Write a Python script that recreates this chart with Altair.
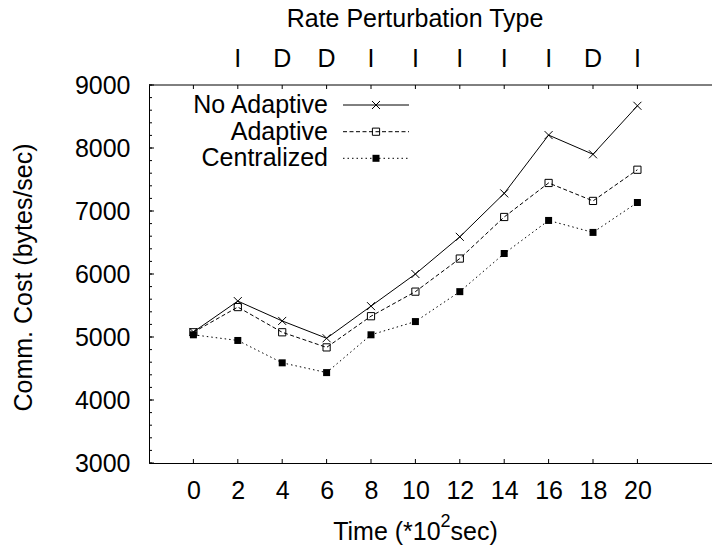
import altair as alt
import pandas as pd

# ---- data ----
times = [0, 2, 4, 6, 8, 10, 12, 14, 16, 18, 20]
no_adaptive = [5080, 5570, 5255, 4980, 5490, 6000, 6590, 7280, 8205, 7900, 8670]
adaptive = [5075, 5475, 5075, 4835, 5330, 5720, 6245, 6905, 7445, 7160, 7655]
centralized = [5035, 4945, 4590, 4435, 5035, 5245, 5720, 6325, 6850, 6660, 7135]
series_names = ["No Adaptive", "Adaptive", "Centralized"]

perturbation_times = [2, 4, 6, 8, 10, 12, 14, 16, 18, 20]
perturbation_types = ["I", "D", "D", "I", "I", "I", "I", "I", "D", "I"]

x_ticks = [0, 2, 4, 6, 8, 10, 12, 14, 16, 18, 20]
y_major = [3000, 4000, 5000, 6000, 7000, 8000, 9000]
y_minor = list(range(3000, 9001, 200))

# x-axis title pieces (with superscript exponent)
x_title_main = "Time (*10"
x_title_exp = "2"
x_title_unit = "sec)"

FONT = "Liberation Sans"
FS = 25
W, H = 563, 378

rows = []
for name, vals in zip(series_names, [no_adaptive, adaptive, centralized]):
    for t, v in zip(times, vals):
        rows.append({"time": t, "value": v, "series": name})
df = pd.DataFrame(rows)

x_scale = alt.Scale(domain=[-2, 23.36], nice=False, zero=False)
y_scale = alt.Scale(domain=[3000, 9000], nice=False, zero=False)

x_axis = alt.Axis(
    values=x_ticks, ticks=False, grid=False, domain=True, domainColor="black",
    domainWidth=1, labelFont=FONT, labelFontSize=FS, labelColor="black",
    labelBaseline="middle", labelPadding=27, labelFlush=False, labelOverlap=False,
    title=None,
)
y_axis = alt.Axis(
    values=y_major, ticks=False, grid=False, domain=True, domainColor="black",
    domainWidth=1, labelFont=FONT, labelFontSize=FS, labelColor="black",
    labelPadding=19, labelFlush=False, labelOverlap=False, format="d",
    title="Comm. Cost (bytes/sec)", titleFont=FONT, titleFontSize=FS,
    titleFontWeight="normal", titleColor="black", titleX=-118, titleY=192,
    titleBaseline="alphabetic", titleAlign="center", titleAngle=270,
)

X = alt.X("time:Q", scale=x_scale, axis=x_axis)
Y = alt.Y("value:Q", scale=y_scale, axis=y_axis)

CROSS = "M-1,-1L1,1M-1,1L1,-1"
styles = {
    "No Adaptive": dict(dash=None, shape=CROSS, filled=False, size=64),
    "Adaptive": dict(dash=[4, 2.5], shape="square", filled=False, size=52),
    "Centralized": dict(dash=[1.5, 3], shape="square", filled=True, size=49),
}


def line_mark(st):
    kw = dict(color="black", strokeWidth=1)
    if st["dash"]:
        kw["strokeDash"] = st["dash"]
    return kw


def point_mark(st):
    return dict(shape=st["shape"], size=st["size"], filled=st["filled"],
                color="black", strokeWidth=1, opacity=1)


def text_layer(txt, x, y, size=FS, align="center", baseline="middle"):
    return alt.Chart(pd.DataFrame({"t": [txt]})).mark_text(
        font=FONT, fontSize=size, color="black", align=align, baseline=baseline
    ).encode(x=alt.value(x), y=alt.value(y), text="t:N")


layers = []

# border / ticks
top_border = alt.Chart(pd.DataFrame({"a": [0]})).mark_rule(color="black", strokeWidth=1).encode(
    x=alt.value(0), x2=alt.value(W), y=alt.value(0))
layers.append(top_border)

xt = pd.DataFrame({"time": x_ticks})
layers.append(alt.Chart(xt).mark_rule(color="black", strokeWidth=1).encode(
    x=X, y=alt.value(H), y2=alt.value(H - 4)))
layers.append(alt.Chart(xt).mark_rule(color="black", strokeWidth=1).encode(
    x=X, y=alt.value(0), y2=alt.value(4)))

ymin = pd.DataFrame({"value": y_minor})
layers.append(alt.Chart(ymin).mark_rule(color="black", strokeWidth=1).encode(
    y=Y, x=alt.value(0), x2=alt.value(3)))
ymaj = pd.DataFrame({"value": y_major})
layers.append(alt.Chart(ymaj).mark_rule(color="black", strokeWidth=1).encode(
    y=Y, x=alt.value(0), x2=alt.value(5)))

# data series
for name in series_names:
    st = styles[name]
    base = alt.Chart(df).transform_filter(alt.datum.series == name)
    layers.append(base.mark_line(**line_mark(st)).encode(x=X, y=Y))
    layers.append(base.mark_point(**point_mark(st)).encode(x=X, y=Y))

# top perturbation labels
pt = pd.DataFrame({"time": perturbation_times, "ptype": perturbation_types})
layers.append(alt.Chart(pt).mark_text(font=FONT, fontSize=FS, color="black",
                                      baseline="middle", align="center").encode(
    x=X, y=alt.value(-26), text="ptype:N"))

# top title
layers.append(text_layer("Rate Perturbation Type", 266, -66))

# x-axis title with superscript
layers.append(text_layer(x_title_main, 291.6, 455, align="right", baseline="alphabetic"))
layers.append(text_layer(x_title_exp, 291.6, 442, size=18, align="left", baseline="alphabetic"))
layers.append(text_layer(x_title_unit, 301.6, 455, align="left", baseline="alphabetic"))

# legend (inside the plot, top left)
legend_y = [20, 46.7, 73.3]
for name, ly in zip(series_names, legend_y):
    st = styles[name]
    ld = pd.DataFrame({"series": [name]})
    layers.append(alt.Chart(ld).mark_text(font=FONT, fontSize=FS, color="black",
                                          align="right", baseline="middle").encode(
        x=alt.value(179), y=alt.value(ly), text="series:N"))
    layers.append(alt.Chart(ld).mark_rule(**line_mark(st)).encode(
        x=alt.value(194), x2=alt.value(260), y=alt.value(ly)))
    layers.append(alt.Chart(ld).mark_point(**point_mark(st)).encode(
        x=alt.value(227), y=alt.value(ly)))

chart = alt.layer(*layers).properties(
    width=W, height=H,
    autosize=alt.AutoSizeParams(type="none"),
    padding={"left": 149, "top": 85, "right": 0, "bottom": 90},
    background="white",
).configure_view(stroke=None)

chart.save("out.html", embed_options={"renderer": "svg", "actions": False})
